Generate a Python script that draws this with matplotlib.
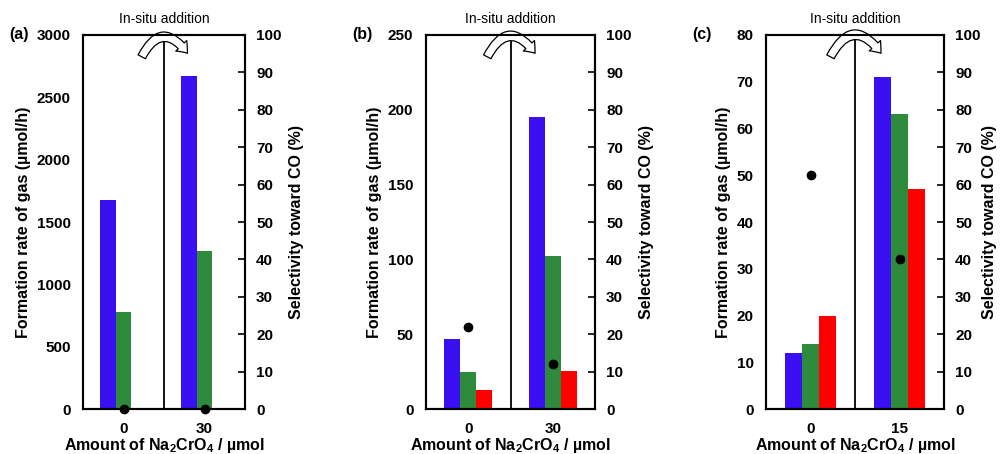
import numpy as np
import matplotlib
matplotlib.use("Agg")
import matplotlib.pyplot as plt
from matplotlib.patches import FancyArrowPatch

plt.rcParams['font.family'] = ['Liberation Sans', 'DejaVu Sans']
plt.rcParams['font.weight'] = 'bold'
plt.rcParams['axes.labelweight'] = 'bold'
plt.rcParams['mathtext.fontset'] = 'custom'
plt.rcParams['mathtext.rm'] = 'Liberation Sans:bold'
plt.rcParams['mathtext.bf'] = 'Liberation Sans:bold'

''' Data '''

panel_tags = ['(a)', '(b)', '(c)']
group_labels = [['0', '30'], ['0', '30'], ['0', '15']]
ymax_left = [3000, 250, 80]
ystep_left = [500, 50, 10]

blue_vals = [[1680, 2670], [47, 195], [12, 71]]
green_vals = [[775, 1270], [25, 102], [14, 63]]
red_vals = [[5, 0], [13, 25.5], [20, 47]]
selectivity = [[0, 0], [22, 12], [62.5, 40]]

BLUE = '#3a10f2'
GREEN = '#2e8b3c'
RED = '#ff0000'

# axes boxes in figure fractions [left, bottom, width, height]
boxes = [[0.083, 0.099, 0.162, 0.824],
         [0.426, 0.099, 0.169, 0.824],
         [0.766, 0.099, 0.178, 0.824]]
right_pads = [5, 5, 1]

fig = plt.figure(figsize=(10, 4.54), dpi=100)

for i in range(3):
    ax = fig.add_axes(boxes[i])
    x = np.arange(2)
    w = 0.19
    ax.bar(x - w, blue_vals[i], w, color=BLUE)
    ax.bar(x, green_vals[i], w, color=GREEN)
    ax.bar(x + w, red_vals[i], w, color=RED)
    ax.axvline(0.5, color='black', lw=1.3)

    ax.set_xlim(-0.5, 1.5)
    ax.set_ylim(0, ymax_left[i])
    ax.set_yticks(np.arange(0, ymax_left[i] + 1, ystep_left[i]))
    ax.set_xticks(x)
    ax.set_xticklabels(group_labels[i])
    ax.tick_params(axis='both', length=0, labelsize=11, pad=9)
    ax.tick_params(axis='x', pad=9)
    for s in ax.spines.values():
        s.set_linewidth(1.5)
    ax.set_ylabel('Formation rate of gas (µmol/h)', fontsize=11.5, labelpad=4)
    ax.set_xlabel('Amount of Na$_{2}$CrO$_{4}$ / µmol', fontsize=11.5, labelpad=0)

    ax2 = ax.twinx()
    ax2.plot(x, selectivity[i], 'o', color='black', ms=6, clip_on=False, zorder=5)
    ax2.set_ylim(0, 100)
    ax2.set_yticks(np.arange(0, 101, 10))
    ax2.tick_params(axis='y', direction='in', length=5, width=1.2, labelsize=11, pad=8)
    for s in ax2.spines.values():
        s.set_linewidth(1.5)
    ax2.set_ylabel('Selectivity toward CO (%)', fontsize=11.5, labelpad=right_pads[i])

    # curved "in-situ addition" arrow
    arrow = FancyArrowPatch((0.355, 0.935), (0.655, 0.945), transform=ax.transAxes,
                            connectionstyle='arc3,rad=-0.85',
                            arrowstyle='simple,head_length=7,head_width=11,tail_width=6',
                            facecolor='white', edgecolor='black', lw=0.9,
                            clip_on=False, zorder=6)
    ax.add_patch(arrow)
    ax.text(0.5, 1.025, 'In-situ addition', transform=ax.transAxes,
            ha='center', va='bottom', fontsize=10, fontweight='normal')

    fig.text(boxes[i][0] - 0.074, boxes[i][1] + boxes[i][3], panel_tags[i],
             ha='left', va='center', fontsize=11.5)

fig.savefig('out.png', dpi=100)
